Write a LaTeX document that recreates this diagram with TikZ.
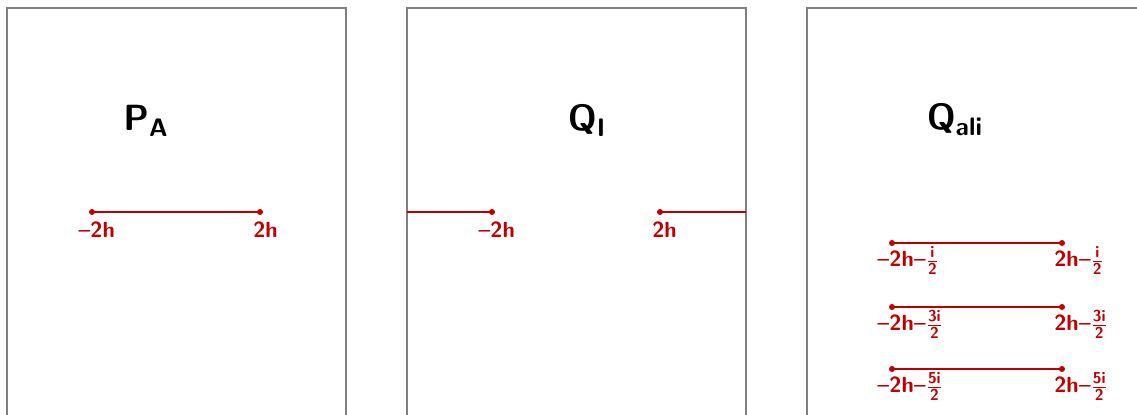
\documentclass[tikz,border=0pt]{standalone}
\usepackage{amsmath}
\usetikzlibrary{positioning}
\definecolor{segred}{RGB}{192,0,0}
\definecolor{framegray}{RGB}{128,128,128}

\begin{document}
\begin{tikzpicture}[
    x=0.02cm, y=-0.02cm,
    node distance=0.18cm and -0.28cm,
    frame/.style={draw=framegray, line width=1.2pt},
    title/.style={font=\fontsize{22}{26}\selectfont\boldmath, inner sep=0pt},
    seg/.style={draw=segred, line width=1.6pt},
    enddot/.style={fill=segred},
    lbl/.style={text=segred, font=\fontsize{12.5}{14}\selectfont\sffamily\bfseries\boldmath, inner sep=0pt}
]
    \path[use as bounding box, clip] (0,0) rectangle (1137,414);

    % Frames
    \draw[frame] (7,8) rectangle (346,440);
    \draw[frame] (407,8) rectangle (746,440);
    \draw[frame] (807,8) rectangle (1146,440);

    % Titles
    \node (pa) [title] at (146,121) {$\mathsf{P}_{\mathsf{A}}$};
    \node (qi) [title] at (587,121) {$\mathsf{Q}_{\mathsf{I}}$};
    \node (qali) [title] at (955,120) {$\mathsf{Q}_{\mathsf{ali}}$};

    % Points
    \coordinate (a1) at (92,212);
    \coordinate (a2) at (260,212);
    \coordinate (b0) at (407,212);
    \coordinate (b1) at (492,212);
    \coordinate (b2) at (660,212);
    \coordinate (b3) at (746,212);
    \foreach \r/\yy in {1/243, 3/307, 5/369} {
        \coordinate (c\r l) at (892,\yy);
        \coordinate (c\r r) at (1062,\yy);
    }

    % Segments
    \draw[seg] (a1) -- (a2);
    \draw[seg] (b0) -- (b1);
    \draw[seg] (b2) -- (b3);
    \foreach \r in {1,3,5}
        \draw[seg] (c\r l) -- (c\r r);
    \foreach \p in {a1,a2,b1,b2,c1l,c1r,c3l,c3r,c5l,c5r}
        \fill[enddot] (\p) circle (0.06cm);

    % Labels
    \node (la1) [lbl, below right=of a1] {--2h};
    \node (la2) [lbl, below right=0.18cm and -0.14cm of a2] {2h};
    \node (lb1) [lbl, below right=of b1] {--2h};
    \node (lb2) [lbl, below right=0.18cm and -0.16cm of b2] {2h};
    \node (lc1l) [lbl, below right=0.06cm and -0.3cm of c1l] {--2h--$\frac{\mathsf{i}}{\mathsf{2}}$};
    \node (lc1r) [lbl, below right=0.06cm and -0.16cm of c1r] {2h--$\frac{\mathsf{i}}{\mathsf{2}}$};
    \node (lc3l) [lbl, below right=0.06cm and -0.3cm of c3l] {--2h--$\frac{\mathsf{3i}}{\mathsf{2}}$};
    \node (lc3r) [lbl, below right=0.06cm and -0.16cm of c3r] {2h--$\frac{\mathsf{3i}}{\mathsf{2}}$};
    \node (lc5l) [lbl, below right=0.06cm and -0.3cm of c5l] {--2h--$\frac{\mathsf{5i}}{\mathsf{2}}$};
    \node (lc5r) [lbl, below right=0.06cm and -0.16cm of c5r] {2h--$\frac{\mathsf{5i}}{\mathsf{2}}$};
\end{tikzpicture}
\end{document}
